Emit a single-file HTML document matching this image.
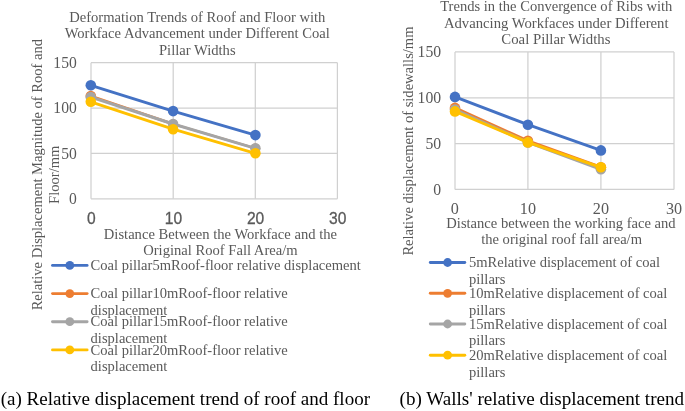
<!DOCTYPE html>
<html lang="en">
<head>
<meta charset="utf-8">
<title>Relative displacement trends</title>
<style>
html,body{margin:0;padding:0;background:#fff;}
body{width:685px;height:411px;overflow:hidden;}
svg{display:block;will-change:transform;}
.t{font-family:"Liberation Serif","Times New Roman",serif;font-size:14.6px;fill:#595959;}
.k{font-family:"Liberation Serif","Times New Roman",serif;font-size:16.8px;fill:#595959;}
.s{font-family:"Liberation Sans",Arial,sans-serif;font-size:16.7px;fill:#595959;stroke:#595959;stroke-width:0.3px;}
.c{font-family:"Liberation Serif","Times New Roman",serif;font-size:19px;fill:#000;}
.g{stroke:#d0d0d0;stroke-width:1.25;fill:none;}
.l{fill:none;stroke-width:2.9;stroke-linecap:round;stroke-linejoin:round;}
</style>
</head>
<body>
<svg width="685" height="411" viewBox="0 0 685 411">
<rect width="685" height="411" fill="#fff"/>

<!-- ================= LEFT CHART ================= -->
<g text-anchor="middle" class="t">
<text x="197.3" y="21.75">Deformation Trends of Roof and Floor with</text>
<text x="197.3" y="38.25">Workface Advancement under Different Coal</text>
<text x="197.3" y="54.75">Pillar Widths</text>
</g>
<!-- grid -->
<g class="g">
<line x1="91" y1="62.7" x2="337.4" y2="62.7"/>
<line x1="91" y1="108.1" x2="337.4" y2="108.1"/>
<line x1="91" y1="153.4" x2="337.4" y2="153.4"/>
<line x1="91" y1="198.8" x2="337.4" y2="198.8"/>
<line x1="91" y1="62.7" x2="91" y2="198.8"/>
<line x1="173.2" y1="62.7" x2="173.2" y2="198.8"/>
<line x1="255.3" y1="62.7" x2="255.3" y2="198.8"/>
<line x1="337.4" y1="62.7" x2="337.4" y2="198.8"/>
</g>
<!-- y ticks -->
<g text-anchor="end" class="k">
<text transform="translate(76.8,67.9) scale(0.93,1)">150</text>
<text transform="translate(76.8,113.3) scale(0.93,1)">100</text>
<text transform="translate(76.8,158.6) scale(0.93,1)">50</text>
<text transform="translate(76.8,204.0) scale(0.93,1)">0</text>
</g>
<!-- x ticks (sans) -->
<g text-anchor="middle" class="s">
<text transform="translate(91.3,224.3) scale(0.935,1)">0</text>
<text transform="translate(173.5,224.3) scale(0.935,1)">10</text>
<text transform="translate(255.6,224.3) scale(0.935,1)">20</text>
<text transform="translate(337.7,224.3) scale(0.935,1)">30</text>
</g>
<!-- y title -->
<g text-anchor="middle" class="t">
<text transform="translate(42,174.7) rotate(-90)" style="font-size:14.53px">Relative Displacement Magnitude of Roof and</text>
<text transform="translate(58.6,174.8) rotate(-90)">Floor/mm</text>
</g>
<!-- x title -->
<g text-anchor="middle" class="t">
<text x="220.4" y="238.9">Distance Between the Workface and the</text>
<text x="220.4" y="255.25">Original Roof Fall Area/m</text>
</g>
<!-- series -->
<g>
<polyline class="l" stroke="#4472c4" points="90.8,85.3 173.1,111.1 255.4,135.1"/>
<g fill="#4472c4"><circle cx="90.8" cy="85.3" r="5.3"/><circle cx="173.1" cy="111.1" r="5.3"/><circle cx="255.4" cy="135.1" r="5.3"/></g>
<polyline class="l" stroke="#ed7d31" points="90.8,96.1 173.1,124.0"/><polyline class="l" stroke="#ed7d31" style="stroke-width:2.1" points="173.1,124.0 255.4,148.3"/>
<g fill="#ed7d31"><circle cx="90.8" cy="96.1" r="5.3"/><circle cx="173.1" cy="124.0" r="4.7"/><circle cx="255.4" cy="148.3" r="4.7"/></g>
<polyline class="l" stroke="#a5a5a5" points="90.8,97.0 173.1,124.0 255.4,148.3"/>
<g fill="#a5a5a5"><circle cx="90.8" cy="97.0" r="5.3"/><circle cx="173.1" cy="124.0" r="5.3"/><circle cx="255.4" cy="148.3" r="5.3"/></g>
<polyline class="l" stroke="#ffc000" points="90.8,101.8 173.1,129.2 255.4,153.3"/>
<g fill="#ffc000"><circle cx="90.8" cy="101.8" r="5.3"/><circle cx="173.1" cy="129.2" r="5.3"/><circle cx="255.4" cy="153.3" r="5.3"/></g>
</g>
<!-- legend -->
<g>
<line class="l" stroke="#4472c4" x1="52.5" y1="265.4" x2="87.1" y2="265.4"/><circle fill="#4472c4" cx="69.8" cy="265.4" r="4.4"/>
<line class="l" stroke="#ed7d31" x1="52.5" y1="293.6" x2="87.1" y2="293.6"/><circle fill="#ed7d31" cx="69.8" cy="293.6" r="4.4"/>
<line class="l" stroke="#a5a5a5" x1="52.5" y1="321.7" x2="87.1" y2="321.7"/><circle fill="#a5a5a5" cx="69.8" cy="321.7" r="4.4"/>
<line class="l" stroke="#ffc000" x1="52.5" y1="349.9" x2="87.1" y2="349.9"/><circle fill="#ffc000" cx="69.8" cy="349.9" r="4.4"/>
</g>
<g class="t" style="font-size:14.55px">
<text x="90.6" y="269.6">Coal pillar5mRoof-floor relative displacement</text>
<text x="90.6" y="298">Coal pillar10mRoof-floor relative</text>
<text x="90.6" y="314.5">displacement</text>
<text x="90.6" y="326.2">Coal pillar15mRoof-floor relative</text>
<text x="90.6" y="342.7">displacement</text>
<text x="90.6" y="354.5">Coal pillar20mRoof-floor relative</text>
<text x="90.6" y="371">displacement</text>
</g>

<!-- ================= RIGHT CHART ================= -->
<g text-anchor="middle" class="t">
<text x="556.3" y="10.9" style="font-size:14.57px">Trends in the Convergence of Ribs with</text>
<text x="556.2" y="27.6" style="font-size:14.69px">Advancing Workfaces under Different</text>
<text x="555.9" y="44.2" style="font-size:14.78px">Coal Pillar Widths</text>
</g>
<g class="g">
<line x1="455.0" y1="51.9" x2="674.0" y2="51.9"/>
<line x1="455.0" y1="97.75" x2="674.0" y2="97.75"/>
<line x1="455.0" y1="143.6" x2="674.0" y2="143.6"/>
<line x1="455.0" y1="189.45" x2="674.0" y2="189.45"/>
<line x1="455.0" y1="51.9" x2="455.0" y2="189.45"/>
<line x1="527.9" y1="51.9" x2="527.9" y2="189.45"/>
<line x1="600.9" y1="51.9" x2="600.9" y2="189.45"/>
<line x1="674.0" y1="51.9" x2="674.0" y2="189.45"/>
</g>
<g text-anchor="end" class="k">
<text transform="translate(441.1,57.30) scale(0.935,1)">150</text>
<text transform="translate(441.1,103.15) scale(0.935,1)">100</text>
<text transform="translate(441.1,149.00) scale(0.935,1)">50</text>
<text transform="translate(441.1,194.85) scale(0.935,1)">0</text>
</g>
<g text-anchor="middle" class="k">
<text transform="translate(454.85,214.4) scale(0.925,1)" style="font-size:17.5px">0</text>
<text transform="translate(527.95,214.4) scale(0.925,1)" style="font-size:17.5px">10</text>
<text transform="translate(600.95,214.4) scale(0.925,1)" style="font-size:17.5px">20</text>
<text transform="translate(674.05,214.4) scale(0.925,1)" style="font-size:17.5px">30</text>
</g>
<g text-anchor="middle" class="t">
<text transform="translate(413.0,141.05) rotate(-90)" style="font-size:14.555px">Relative displacement of sidewalls/mm</text>
</g>
<g text-anchor="middle" class="t">
<text x="560.95" y="228.25" style="font-size:14.57px">Distance between the working face and</text>
<text x="561.6" y="244.2" style="font-size:14.55px">the original roof fall area/m</text>
</g>
<g>
<polyline class="l" stroke="#4472c4" points="455.0,96.9 527.9,124.7 600.9,150.4"/>
<g fill="#4472c4"><circle cx="455.0" cy="96.9" r="5.3"/><circle cx="527.9" cy="124.7" r="5.3"/><circle cx="600.9" cy="150.4" r="5.3"/></g>
<polyline class="l" stroke="#ed7d31" points="455.0,107.9 527.9,140.8 600.9,167.2"/>
<g fill="#ed7d31"><circle cx="455.0" cy="107.9" r="5.3"/><circle cx="527.9" cy="140.8" r="5.3"/><circle cx="600.9" cy="167.2" r="5.3"/></g>
<polyline class="l" stroke="#a5a5a5" points="455.0,109.5 527.9,142.4 600.9,169.3"/>
<g fill="#a5a5a5"><circle cx="455.0" cy="109.5" r="5.3"/><circle cx="527.9" cy="142.4" r="5.3"/><circle cx="600.9" cy="169.3" r="5.3"/></g>
<polyline class="l" stroke="#ffc000" points="455.0,111.4 527.9,142.4 600.9,167.3"/>
<g fill="#ffc000"><circle cx="455.0" cy="111.4" r="5.3"/><circle cx="527.9" cy="142.4" r="5.3"/><circle cx="600.9" cy="167.3" r="5.3"/></g>
</g>
<g>
<line class="l" stroke="#4472c4" x1="430.3" y1="262.5" x2="464.8" y2="262.5"/><circle fill="#4472c4" cx="447.6" cy="262.5" r="4.4"/>
<line class="l" stroke="#ed7d31" x1="430.3" y1="293.3" x2="464.8" y2="293.3"/><circle fill="#ed7d31" cx="447.6" cy="293.3" r="4.4"/>
<line class="l" stroke="#a5a5a5" x1="430.3" y1="324.0" x2="464.8" y2="324.0"/><circle fill="#a5a5a5" cx="447.6" cy="324.0" r="4.4"/>
<line class="l" stroke="#ffc000" x1="430.3" y1="355.2" x2="464.8" y2="355.2"/><circle fill="#ffc000" cx="447.6" cy="355.2" r="4.4"/>
</g>
<g class="t" style="font-size:14.55px">
<text x="469" y="267.2">5mRelative displacement of coal</text>
<text x="469" y="283.5">pillars</text>
<text x="469" y="298.05">10mRelative displacement of coal</text>
<text x="469" y="314.5">pillars</text>
<text x="469" y="329">15mRelative displacement of coal</text>
<text x="469" y="345.1">pillars</text>
<text x="469" y="360.15">20mRelative displacement of coal</text>
<text x="469" y="376.6">pillars</text>
</g>

<!-- ================= CAPTIONS ================= -->
<text class="c" x="0.65" y="405.4" style="font-size:19.05px">(a) Relative displacement trend of roof and floor</text>
<text class="c" x="399.6" y="405.4" style="font-size:19.08px">(b) Walls' relative displacement trend</text>
</svg>
</body>
</html>
